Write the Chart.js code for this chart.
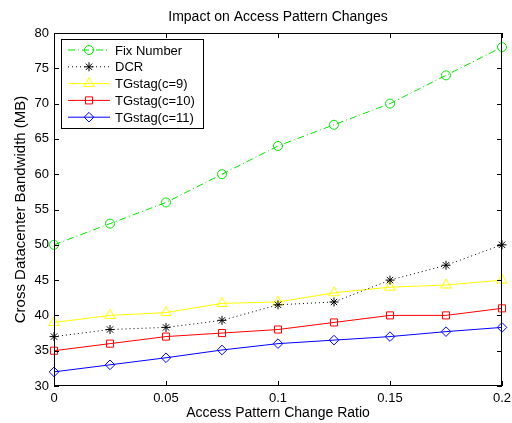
<!DOCTYPE html>
<html>
<head>
<meta charset="utf-8">
<script src="https://cdn.jsdelivr.net/npm/chart.js@4.4.0/dist/chart.umd.min.js"></script>
<style>
  html, body { margin: 0; padding: 0; background: #fff; }
</style>
</head>
<body>
<canvas id="chart" width="512" height="423"></canvas>
<script>
// Data
const ratios = [0, 0.025, 0.05, 0.075, 0.1, 0.125, 0.15, 0.175, 0.2];
const fixNumber = [50, 53, 56, 60, 64, 67, 70, 74, 78];
const dcr = [37, 38, 38.3, 39.3, 41.5, 41.9, 45, 47.1, 50];
const tgC9 = [39, 40, 40.4, 41.7, 41.9, 43.2, 44, 44.3, 45];
const tgC10 = [35, 36, 37, 37.5, 38, 39, 40, 40, 41];
const tgC11 = [32, 33, 34, 35.1, 36, 36.5, 37, 37.7, 38.3];
const xTicks = [0, 0.05, 0.1, 0.15, 0.2];
const yTicks = [30, 35, 40, 45, 50, 55, 60, 65, 70, 75, 80];

const FONT = "'Liberation Sans', Arial, Helvetica, sans-serif";
const GREEN = "rgb(0,230,0)";

const series = [
  { label: "Fix Number", data: fixNumber, color: GREEN, dash: [7, 3, 1, 3], style: "circle", r: 4.5 },
  { label: "DCR", data: dcr, color: "#000", dash: [1, 3], style: "star", r: 4.5 },
  { label: "TGstag(c=9)", data: tgC9, color: "#ffff00", dash: [], style: "triangle", r: 6 },
  { label: "TGstag(c=10)", data: tgC10, color: "#ff0000", dash: [], style: "rect", r: 5 },
  { label: "TGstag(c=11)", data: tgC11, color: "#0000ff", dash: [], style: "rectRot", r: 4.8 },
];

// box, inward ticks, title and legend in MATLAB style
const matlabFrame = {
  id: "matlabFrame",
  afterDraw(chart) {
    const { ctx, chartArea: a, scales } = chart;
    const tl = 5;
    ctx.save();
    ctx.strokeStyle = "#000";
    ctx.lineWidth = 1;
    ctx.setLineDash([]);
    ctx.strokeRect(Math.round(a.left) + 0.5, Math.round(a.top) + 0.5,
      Math.round(a.right - a.left) - 1, Math.round(a.bottom - a.top) - 1);
    ctx.beginPath();
    xTicks.forEach((v) => {
      const x = Math.round(scales.x.getPixelForValue(v)) + 0.5;
      ctx.moveTo(x, a.bottom); ctx.lineTo(x, a.bottom - tl);
      ctx.moveTo(x, a.top); ctx.lineTo(x, a.top + tl);
    });
    yTicks.forEach((v) => {
      const y = Math.round(scales.y.getPixelForValue(v)) + 0.5;
      ctx.moveTo(a.left, y); ctx.lineTo(a.left + tl, y);
      ctx.moveTo(a.right, y); ctx.lineTo(a.right - tl, y);
    });
    ctx.stroke();

    // title
    ctx.fillStyle = "#000";
    ctx.font = "14px " + FONT;
    ctx.textAlign = "center";
    ctx.textBaseline = "middle";
    ctx.fillText("Impact on Access Pattern Changes", (a.left + a.right) / 2, 17);

    // legend
    const bx = 61.5, by = 39.5, bw = 142, bh = 89;
    ctx.fillStyle = "#fff";
    ctx.fillRect(bx, by, bw, bh);
    ctx.strokeRect(bx, by, bw, bh);
    ctx.font = "13px " + FONT;
    ctx.textAlign = "left";
    series.forEach((s, i) => {
      const y = 50 + i * 16.8;
      ctx.strokeStyle = s.color;
      ctx.setLineDash(s.dash);
      ctx.beginPath();
      ctx.moveTo(68, y); ctx.lineTo(110, y);
      ctx.stroke();
      ctx.setLineDash([]);
      ctx.fillStyle = "rgba(0,0,0,0)";
      Chart.helpers.drawPoint(ctx, { pointStyle: s.style, radius: s.r, rotation: 0, borderWidth: 1 }, 89, y);
      ctx.fillStyle = "#000";
      ctx.fillText(s.label, 115, y + 1);
    });
    ctx.restore();
  },
};

new Chart(document.getElementById("chart"), {
  type: "line",
  data: {
    datasets: series.map((s) => ({
      label: s.label,
      data: ratios.map((x, i) => ({ x, y: s.data[i] })),
      borderColor: s.color,
      borderWidth: 1,
      borderDash: s.dash,
      pointStyle: s.style,
      pointRadius: s.r,
      pointBorderColor: s.color,
      pointBackgroundColor: "rgba(0,0,0,0)",
      pointBorderWidth: 1,
      tension: 0,
      clip: false,
    })),
  },
  options: {
    responsive: false,
    animation: false,
    events: [],
    layout: { padding: { left: 0, top: 33, right: 10, bottom: 0 } },
    plugins: { legend: { display: false }, title: { display: false }, tooltip: { enabled: false } },
    scales: {
      x: {
        type: "linear",
        min: 0,
        max: 0.2,
        afterBuildTicks: (s) => { s.ticks = xTicks.map((v) => ({ value: v })); },
        afterFit: (s) => { s.height = 37; s.paddingLeft = 0; s.paddingRight = 0; },
        grid: { display: false, drawTicks: false },
        border: { display: false },
        ticks: { color: "#000", font: { family: FONT, size: 13 }, padding: 5, maxRotation: 0,
          callback: (v) => String(v) },
        title: { display: true, text: "Access Pattern Change Ratio", color: "#000",
          font: { family: FONT, size: 14 }, padding: { top: 0, bottom: 1 } },
      },
      y: {
        type: "linear",
        min: 30,
        max: 80,
        afterBuildTicks: (s) => { s.ticks = yTicks.map((v) => ({ value: v })); },
        afterFit: (s) => { s.width = 54; s.paddingTop = 0; s.paddingBottom = 0; },
        grid: { display: false, drawTicks: false },
        border: { display: false },
        ticks: { color: "#000", font: { family: FONT, size: 13 }, padding: 5 },
        title: { display: true, text: "Cross Datacenter Bandwidth (MB)", color: "#000",
          font: { family: FONT, size: 15 }, padding: { top: 12, bottom: 0 } },
      },
    },
  },
  plugins: [matlabFrame],
});
</script>
</body>
</html>
